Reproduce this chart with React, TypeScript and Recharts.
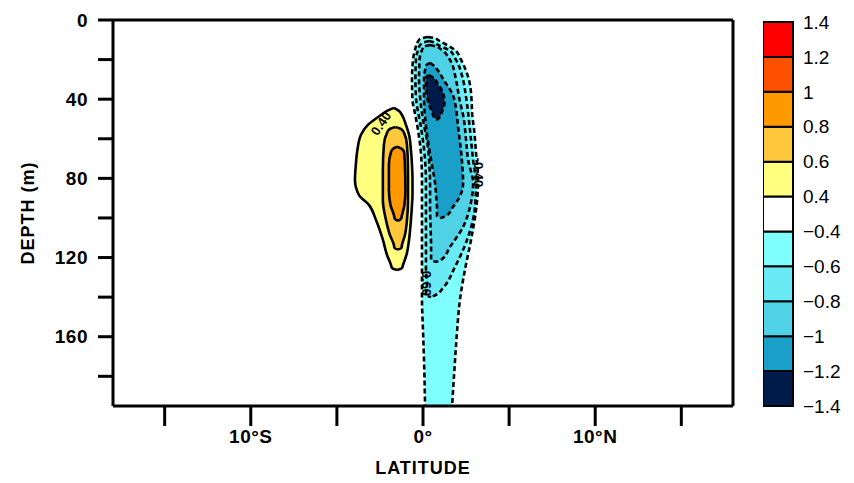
import {
  Area,
  Bar,
  BarChart,
  ComposedChart,
  ReferenceDot,
  XAxis,
  YAxis,
} from "recharts";

const FONT = "'Liberation Sans', Arial, sans-serif";

const LAT_TICKS = [-15, -10, -5, 0, 5, 10, 15];
const LAT_LABELS: Record<string, string> = { "-10": "10°S", "0": "0°", "10": "10°N" };
const DEPTH_TICKS = [0, 20, 40, 60, 80, 100, 120, 140, 160, 180];
const DEPTH_LABELLED = [0, 40, 80, 120, 160];

// contour outlines, one row per depth: [depth (m), west edge, east edge] in degrees
const POS_04 = [
  [44.4, -1.69, -1.69], [45.9, -2.09, -1.4], [48, -2.44, -1.22], [53, -3.2, -0.99],
  [58, -3.6, -0.81], [65.7, -3.81, -0.7], [73.2, -3.9, -0.64], [80.8, -3.95, -0.61],
  [88.4, -3.72, -0.61], [93.4, -3.14, -0.64], [101, -2.73, -0.7], [111, -2.33, -0.81],
  [118.7, -2.09, -0.96], [123.7, -1.86, -1.16], [125.3, -1.8, -1.22], [126.3, -1.51, -1.51],
];
const POS_06 = [
  [54, -1.6, -1.6], [55, -1.92, -1.28], [57, -2.09, -1.1], [63, -2.27, -0.93],
  [76, -2.33, -0.87], [91, -2.33, -0.87], [101, -2.15, -0.93], [108.6, -1.92, -1.05],
  [113.6, -1.69, -1.22], [115.1, -1.66, -1.25], [116, -1.45, -1.45],
];
const POS_08 = [
  [64, -1.51, -1.51], [65, -1.74, -1.25], [66.7, -1.86, -1.1], [73.2, -1.98, -1.05],
  [85.9, -1.98, -1.02], [93.4, -1.89, -1.08], [98.5, -1.69, -1.22], [100.5, -1.63, -1.28],
  [101.5, -1.45, -1.45],
];
const NEG_04 = [
  [8.6, 0.29, 0.29], [9.2, -0.06, 0.7], [10.1, -0.23, 0.87], [15.2, -0.47, 1.86],
  [20.2, -0.58, 2.21], [30.3, -0.64, 2.67], [40.4, -0.61, 2.82], [47, -0.47, 2.85],
  [55.6, -0.29, 2.97], [67.2, -0.12, 3.08], [80.8, -0.06, 3.2], [96, -0.06, 3.08],
  [111, -0.06, 2.79], [126, -0.06, 2.44], [141, -0.06, 2.15], [157, 0, 1.98],
  [172, 0.06, 1.86], [195, 0.12, 1.69],
];
const NEG_06 = [
  [10.6, 0.35, 0.35], [11.3, 0.06, 0.64], [12.6, -0.17, 0.87], [15.2, -0.29, 1.51],
  [20.2, -0.41, 1.92], [30.3, -0.44, 2.33], [38.9, -0.41, 2.5], [55.6, -0.09, 2.73],
  [70.7, 0.12, 2.91], [82.3, 0.17, 3.08], [94.4, 0.17, 3.02], [111, 0.17, 2.56],
  [124.7, 0.17, 1.86], [135.4, 0.23, 1.16], [138.8, 0.15, 0.76], [140, 0.47, 0.47],
];
const NEG_08 = [
  [12.6, 0.41, 0.41], [13.4, 0.06, 0.76], [15.2, -0.06, 1.1], [20.2, -0.2, 1.57],
  [30.3, -0.23, 1.92], [38.9, -0.17, 2.09], [50.5, 0, 2.38], [60.6, 0.23, 2.5],
  [70.7, 0.35, 2.62], [82.3, 0.41, 2.91], [94.4, 0.41, 2.73], [104.5, 0.44, 2.33],
  [114.6, 0.47, 1.57], [121.2, 0.47, 1.05], [122.2, 0.76, 0.76],
];
const NEG_10 = [
  [21.7, 0.41, 0.41], [22.7, 0.2, 0.58], [25.3, 0.12, 0.85], [30.3, 0.06, 1.2],
  [38.9, 0.06, 1.78], [55.6, 0.2, 2.06], [72.2, 0.5, 2.27], [82.3, 0.7, 2.33],
  [90.9, 0.78, 2.03], [94.4, 0.81, 1.74], [99, 0.81, 1.34], [100, 1.05, 1.05],
];
const NEG_12 = [
  [27.8, 0.35, 0.35], [28.8, 0.2, 0.55], [32.8, 0.18, 0.9], [36.4, 0.2, 1.15],
  [41.9, 0.32, 1.25], [46, 0.5, 1.12], [49.3, 0.66, 0.95], [50.5, 0.81, 0.81],
];

const CONTOURS = [
  { key: "p04", rows: POS_04, fill: "#ffff80", dashed: false },
  { key: "p06", rows: POS_06, fill: "#ffc83c", dashed: false },
  { key: "p08", rows: POS_08, fill: "#ff9900", dashed: false },
  { key: "n04", rows: NEG_04, fill: "#80ffff", dashed: true },
  { key: "n06", rows: NEG_06, fill: "#6aeaf4", dashed: true },
  { key: "n08", rows: NEG_08, fill: "#50d2e6", dashed: true },
  { key: "n10", rows: NEG_10, fill: "#1aa0c8", dashed: true },
  { key: "n12", rows: NEG_12, fill: "#001a4a", dashed: true },
];

const CONTOUR_LABELS = [
  { lat: -2.44, depth: 52.3, text: "0.40", angle: -56 },
  { lat: 3.2, depth: 77, text: "-0.40", angle: 90 },
  { lat: 0.23, depth: 132, text: "-0.60", angle: 90 },
];

// colour bar, bottom to top
const CB_COLORS = [
  "#001a4a", "#1aa0c8", "#50d2e6", "#6aeaf4", "#80ffff", "#ffffff",
  "#ffff80", "#ffc83c", "#ff9900", "#ff5000", "#ff0000",
];
const CB_LABELS = [
  "−1.4", "−1.2", "−1", "−0.8", "−0.6", "−0.4", "0.4", "0.6", "0.8", "1", "1.2", "1.4",
];

const depths = Array.from(new Set(CONTOURS.flatMap((c) => c.rows.map((r) => r[0])))).sort(
  (a, b) => a - b,
);
const table = depths.map((d) => {
  const row: Record<string, unknown> = { depth: d };
  CONTOURS.forEach((c) => {
    const hit = c.rows.find((r) => r[0] === d);
    row[c.key] = hit ? [hit[1], hit[2]] : [null, null];
  });
  return row;
});

const cbRow: Record<string, unknown> = { name: "cb" };
CB_COLORS.forEach((_, i) => {
  cbRow[`b${i}`] = 1;
});

const axisLine = { stroke: "#000", strokeWidth: 3 };
const tickStyle = { fontSize: 19, fontWeight: "bold", fill: "#000", fontFamily: FONT, letterSpacing: 0.5 };
const titleStyle = { fontSize: 18, fontWeight: "bold", fill: "#000", fontFamily: FONT, letterSpacing: 1 };

function ContourLabel(props: any, text: string, angle: number) {
  const { cx, cy } = props;
  return (
    <g transform={`rotate(${angle} ${cx} ${cy})`}>
      <text
        x={cx}
        y={cy}
        textAnchor="middle"
        dominantBaseline="central"
        fontSize={13}
        fontWeight="bold"
        fontFamily={FONT}
        fill="#000"
      >
        {text}
      </text>
    </g>
  );
}

export default function App() {
  return (
    <div style={{ position: "absolute", left: 0, top: 0, width: 854, height: 483, background: "#fff" }}>
      <div style={{ position: "absolute", left: 0, top: 0 }}>
        <ComposedChart
          width={854}
          height={483}
          layout="vertical"
          data={table}
          margin={{ top: 0, right: 101, bottom: 7, left: 18 }}
        >
          <XAxis
            type="number"
            domain={[-18, 18]}
            allowDataOverflow
            ticks={LAT_TICKS}
            tickFormatter={(v) => LAT_LABELS[String(v)] ?? ""}
            height={70}
            tickSize={20}
            tickMargin={4}
            axisLine={axisLine}
            tickLine={axisLine}
            tick={tickStyle}
            label={{ value: "LATITUDE", position: "insideBottom", offset: 2, style: titleStyle }}
          />
          <XAxis
            xAxisId="top"
            orientation="top"
            type="number"
            domain={[-18, 18]}
            allowDataOverflow
            ticks={LAT_TICKS}
            height={20}
            tickSize={15}
            tick={false}
            axisLine={axisLine}
            tickLine={axisLine}
          />
          <YAxis
            type="number"
            dataKey="depth"
            domain={[0, 195]}
            allowDataOverflow
            ticks={DEPTH_TICKS}
            tickFormatter={(v) => (DEPTH_LABELLED.includes(v) ? String(v) : "")}
            width={95}
            tickSize={15}
            tickMargin={10}
            axisLine={axisLine}
            tickLine={axisLine}
            tick={tickStyle}
            label={{
              value: "DEPTH (m)",
              angle: -90,
              position: "insideLeft",
              offset: 10,
              style: { ...titleStyle, textAnchor: "middle" },
            }}
          />
          <YAxis
            yAxisId="right"
            orientation="right"
            type="number"
            domain={[0, 195]}
            allowDataOverflow
            ticks={DEPTH_TICKS}
            width={20}
            tickSize={14}
            tick={false}
            axisLine={axisLine}
            tickLine={axisLine}
          />
          {CONTOURS.map((c) => (
            <Area
              key={c.key}
              dataKey={c.key}
              type="monotone"
              fill={c.fill}
              fillOpacity={1}
              stroke="#000"
              strokeWidth={2.6}
              strokeDasharray={c.dashed ? "5 3" : undefined}
              connectNulls
              dot={false}
              activeDot={false}
              isAnimationActive={false}
            />
          ))}
          {CONTOUR_LABELS.map((l) => (
            <ReferenceDot
              key={l.text + l.lat}
              x={l.lat}
              y={l.depth}
              r={0}
              shape={(p: any) => ContourLabel(p, l.text, l.angle)}
            />
          ))}
        </ComposedChart>
      </div>
      <div style={{ position: "absolute", left: 763, top: 0 }}>
        <BarChart
          width={91}
          height={483}
          data={[cbRow]}
          barCategoryGap={0}
          margin={{ top: 22, right: 0, bottom: 77, left: 0 }}
        >
          <XAxis dataKey="name" hide />
          <YAxis
            orientation="right"
            type="number"
            domain={[0, CB_COLORS.length]}
            ticks={CB_LABELS.map((_, i) => i)}
            tickFormatter={(v) => CB_LABELS[v] ?? ""}
            width={61}
            axisLine={false}
            tickLine={false}
            tickSize={0}
            tickMargin={10}
            tick={{ fontSize: 19, fill: "#000", fontFamily: FONT }}
            interval={0}
          />
          {CB_COLORS.map((col, i) => (
            <Bar
              key={col}
              dataKey={`b${i}`}
              stackId="cb"
              fill={col}
              stroke="#000"
              strokeWidth={2}
              isAnimationActive={false}
            />
          ))}
        </BarChart>
      </div>
    </div>
  );
}
